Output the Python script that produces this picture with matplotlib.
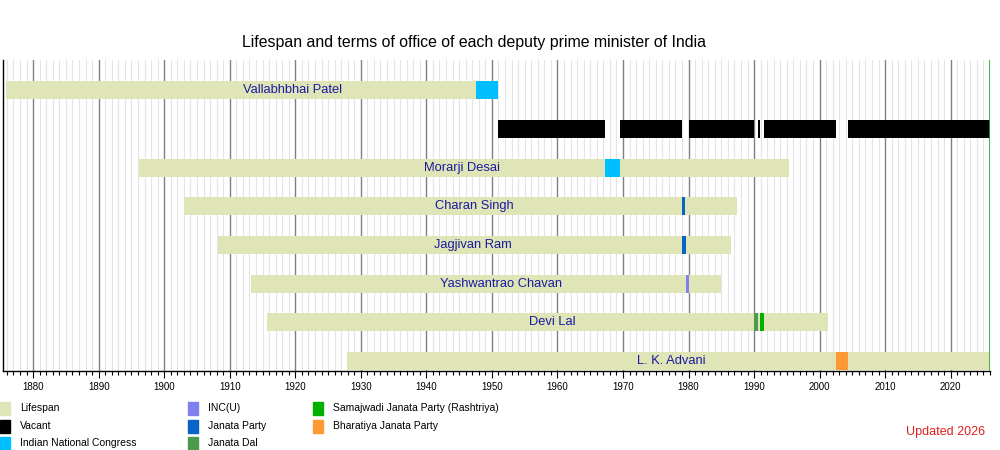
import datetime as dt
import matplotlib
matplotlib.use("Agg")
import matplotlib.pyplot as plt
from matplotlib.patches import Rectangle
from matplotlib.ticker import MultipleLocator

plt.rcParams['font.family'] = ['Liberation Sans', 'DejaVu Sans']

# ---- data ----
names = ["Vallabhbhai Patel", "", "Morarji Desai", "Charan Singh", "Jagjivan Ram",
         "Yashwantrao Chavan", "Devi Lal", "L. K. Advani"]
births = ["1875-10-31", None, "1896-02-29", "1902-12-23", "1908-04-05",
          "1913-03-12", "1915-09-25", "1927-11-08"]
deaths = ["1950-12-15", None, "1995-04-10", "1987-05-29", "1986-07-06",
          "1984-11-25", "2001-04-06", None]
label_years = [1919.6, None, 1945.4, 1947.3, 1947.1, 1951.4, 1959.2, 1977.3]

# (row, start, end, party)
terms = [
    (0, "1947-08-15", "1950-12-15", "Indian National Congress"),
    (2, "1967-03-13", "1969-07-16", "Indian National Congress"),
    (3, "1979-01-24", "1979-07-16", "Janata Party"),
    (4, "1979-01-24", "1979-07-28", "Janata Party"),
    (5, "1979-07-28", "1980-01-14", "INC(U)"),
    (6, "1989-12-02", "1990-08-01", "Janata Dal"),
    (6, "1990-11-10", "1991-06-21", "Samajwadi Janata Party (Rashtriya)"),
    (7, "2002-06-29", "2004-05-22", "Bharatiya Janata Party"),
]
vacant = [
    ("1950-12-15", "1967-03-13"),
    ("1969-07-16", "1979-01-24"),
    ("1980-01-14", "1989-12-02"),
    ("1990-08-01", "1990-11-10"),
    ("1991-06-21", "2002-06-29"),
    ("2004-05-22", None),
]
today = "2026-01-01"

party_colors = {
    "Lifespan": "#dfe5b6",
    "Vacant": "#000000",
    "Indian National Congress": "#00bfff",
    "INC(U)": "#8080f0",
    "Janata Party": "#0a64c8",
    "Janata Dal": "#4c9a4c",
    "Samajwadi Janata Party (Rashtriya)": "#00b000",
    "Bharatiya Janata Party": "#ff9933",
}
legend_cols = [
    ["Lifespan", "Vacant", "Indian National Congress"],
    ["INC(U)", "Janata Party", "Janata Dal"],
    ["Samajwadi Janata Party (Rashtriya)", "Bharatiya Janata Party"],
]


def yr(s):
    if s is None:
        s = today
    d = dt.date.fromisoformat(s)
    start = dt.date(d.year, 1, 1)
    n = (dt.date(d.year + 1, 1, 1) - start).days
    return d.year + (d - start).days / n


fig = plt.figure(figsize=(10, 4.5), dpi=100)
ax = fig.add_axes([0.003, 1 - 371 / 450, 0.987, (371 - 60) / 450])

x0, x1 = 1875.4, yr(today)
ax.set_xlim(x0, x1)
ax.set_ylim(7.26, -0.78)

# grid
for y in range(1876, 2026):
    ax.axvline(y, color="#808080" if y % 10 == 0 else "#e4e4e4",
               lw=1 if y % 10 == 0 else 0.8, zorder=0)

h = 0.465
for i, n in enumerate(names):
    if births[i] is None:
        continue
    b, d = yr(births[i]), yr(deaths[i])
    ax.barh(i, d - b, left=b, height=h, color=party_colors["Lifespan"], zorder=2)
    ax.text(label_years[i], i, n, ha="center", va="center", color="#1a1aa0",
            fontsize=9.3, zorder=4)

for s, e in vacant:
    ax.barh(1, yr(e) - yr(s), left=yr(s), height=h, color=party_colors["Vacant"], zorder=2)

for row, s, e, p in terms:
    ax.barh(row, yr(e) - yr(s), left=yr(s), height=h, color=party_colors[p], zorder=3)

ax.axvline(x1 - 0.05, color="#22aa22", lw=1.2, zorder=5)

for sp in ["top", "right"]:
    ax.spines[sp].set_visible(False)
ax.spines["left"].set_linewidth(1)
ax.spines["bottom"].set_linewidth(1)
ax.set_yticks([])
ax.xaxis.set_major_locator(MultipleLocator(10))
ax.xaxis.set_minor_locator(MultipleLocator(1))
ax.tick_params(axis="x", which="major", length=5, width=0.8, labelsize=7, pad=3)
ax.tick_params(axis="x", which="minor", length=3, width=0.8)

fig.text(0.474, 1 - 42 / 450, "Lifespan and terms of office of each deputy prime minister of India",
         ha="center", va="center", fontsize=11.4)

# legend
col_x = [0, 188, 313]
row_y = [408, 426, 443]
for c, entries in enumerate(legend_cols):
    for r, lab in enumerate(entries):
        fig.patches.append(Rectangle((col_x[c] / 1000, 1 - (row_y[r] + 6.5) / 450),
                                     10 / 1000, 13 / 450, color=party_colors[lab],
                                     transform=fig.transFigure, figure=fig))
        fig.text((col_x[c] + 20) / 1000, 1 - row_y[r] / 450, lab, ha="left", va="center",
                 fontsize=7.5)

fig.text(985 / 1000, 1 - 432 / 450, "Updated 2026", ha="right", va="center",
         color="#e02020", fontsize=9)

fig.savefig("out.png", dpi=100)
